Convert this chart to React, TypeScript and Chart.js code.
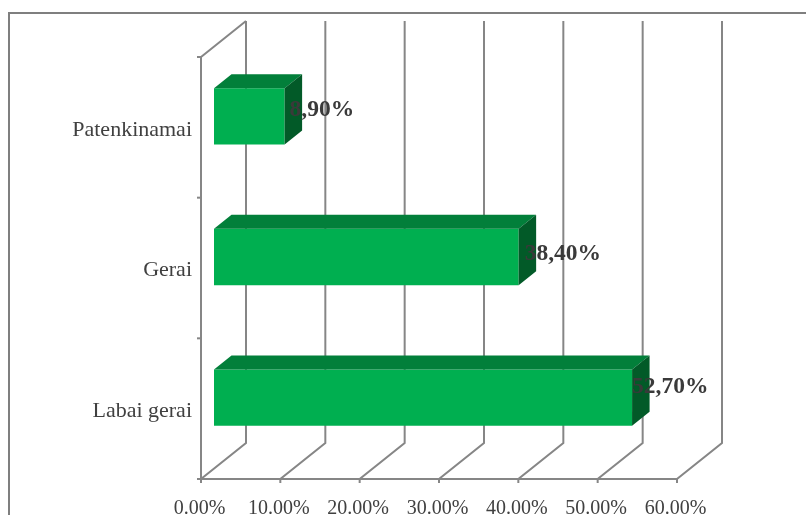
import React, { useEffect, useRef } from "react";
import { Chart, registerables } from "chart.js";

Chart.register(...registerables);

const categories = ["Patenkinamai", "Gerai", "Labai gerai"];
const values = [8.9, 38.4, 52.7];
const valueLabels = ["8,90%", "38,40%", "52,70%"];
const xMin = 0;
const xMax = 60;
const xStep = 10;

const GRID = "#868686";
const TEXT = "#404040";
const FRONT = "#00AF50";
const TOP = "#027F3A";
const SIDE = "#025A28";
const FONT = '"Liberation Serif", serif';

const WALL_DX = 45;
const WALL_DY = -36;
const BAR_DX = 13;
const BAR_DY = -11;
const DEPTH_DX = 17.5;
const DEPTH_DY = -14;
const LABEL_GAP = [6, 7, 1];
const LABEL_RISE = [7, 4.5, 12];

const line = (c: CanvasRenderingContext2D, pts: number[][]) => {
  c.beginPath();
  pts.forEach((p, i) => (i ? c.lineTo(p[0], p[1]) : c.moveTo(p[0], p[1])));
  c.stroke();
};
const poly = (c: CanvasRenderingContext2D, pts: number[][], fill: string) => {
  c.fillStyle = fill;
  c.beginPath();
  pts.forEach((p, i) => (i ? c.lineTo(p[0], p[1]) : c.moveTo(p[0], p[1])));
  c.closePath();
  c.fill();
};

const box3d = {
  id: "box3d",
  beforeDatasetsDraw(chart: any) {
    const c: CanvasRenderingContext2D = chart.ctx;
    const { left, top, bottom } = chart.chartArea;
    const xs = chart.scales.x;
    c.save();
    c.strokeStyle = GRID;
    c.lineWidth = 2;
    xs.ticks.forEach((t: any) => {
      const x = xs.getPixelForValue(t.value);
      line(c, [
        [x, bottom + 4],
        [x, bottom],
        [x + WALL_DX, bottom + WALL_DY],
        [x + WALL_DX, top + WALL_DY],
      ]);
    });
    line(c, [
      [left - 4, top],
      [left, top],
      [left + WALL_DX, top + WALL_DY],
    ]);
    line(c, [
      [left, top],
      [left, bottom],
    ]);
    const band = (bottom - top) / categories.length;
    categories.forEach((_, i) => {
      const y = top + band * (i + 1);
      line(c, [
        [left - 4, y],
        [left, y],
      ]);
    });
    line(c, [
      [left - 4, bottom],
      [xs.right, bottom],
    ]);
    c.restore();
  },
  beforeDatasetDraw(chart: any) {
    chart.ctx.save();
    chart.ctx.translate(BAR_DX, BAR_DY);
  },
  afterDatasetDraw(chart: any, args: any) {
    const c: CanvasRenderingContext2D = chart.ctx;
    args.meta.data.forEach((el: any) => {
      const t = el.y - el.height / 2;
      const b = el.y + el.height / 2;
      poly(
        c,
        [
          [el.base, t],
          [el.base + DEPTH_DX, t + DEPTH_DY],
          [el.x + DEPTH_DX, t + DEPTH_DY],
          [el.x, t],
        ],
        TOP
      );
      poly(
        c,
        [
          [el.x, t],
          [el.x + DEPTH_DX, t + DEPTH_DY],
          [el.x + DEPTH_DX, b + DEPTH_DY],
          [el.x, b],
        ],
        SIDE
      );
    });
    c.restore();
  },
  afterDatasetsDraw(chart: any) {
    const c: CanvasRenderingContext2D = chart.ctx;
    const meta = chart.getDatasetMeta(0);
    c.save();
    c.fillStyle = "#3A3A3A";
    c.font = `bold 23.5px ${FONT}`;
    c.textAlign = "left";
    c.textBaseline = "middle";
    meta.data.forEach((el: any, i: number) => {
      c.fillText(
        valueLabels[i],
        el.x + BAR_DX + LABEL_GAP[i] - 1,
        el.y + BAR_DY - LABEL_RISE[i] + 1
      );
    });
    c.restore();
  },
};

export default function App() {
  const ref = useRef<HTMLCanvasElement>(null);
  useEffect(() => {
    const chart = new Chart(ref.current as HTMLCanvasElement, {
      type: "bar",
      data: {
        labels: categories,
        datasets: [
          {
            data: values,
            backgroundColor: FRONT,
            borderWidth: 0,
            categoryPercentage: 1,
            barPercentage: 0.4,
          },
        ],
      },
      plugins: [box3d],
      options: {
        indexAxis: "y",
        animation: false,
        responsive: false,
        layout: { padding: { left: 0, top: 57, right: 129, bottom: 0 } },
        plugins: { legend: { display: false }, tooltip: { enabled: false } },
        scales: {
          x: {
            min: xMin,
            max: xMax,
            afterFit: (s: any) => {
              s.height = 36;
            },
            ticks: {
              stepSize: xStep,
              autoSkip: false,
              maxRotation: 0,
              padding: 10,
              labelOffset: -1.5,
              color: TEXT,
              font: { family: FONT, size: 20 },
              callback: (v: any) => Number(v).toFixed(2) + "%",
            },
            grid: { display: false },
            border: { display: false },
          },
          y: {
            afterFit: (s: any) => {
              s.width = 201;
            },
            ticks: {
              padding: 1,
              labelOffset: 2.5,
              color: TEXT,
              font: { family: FONT, size: 22 },
            },
            grid: { display: false },
            border: { display: false },
          },
        },
      },
    } as any);
    return () => chart.destroy();
  }, []);
  return (
    <div style={{ position: "fixed", left: 0, top: 0, width: 806, height: 515, overflow: "hidden", background: "#fff" }}>
      <div style={{ position: "absolute", left: 8, top: 12, width: 900, height: 600, borderLeft: "2px solid #7F7F7F", borderTop: "2px solid #7F7F7F" }} />
      <canvas ref={ref} width={806} height={515} style={{ position: "absolute", left: 0, top: 0, display: "block" }} />
    </div>
  );
}
